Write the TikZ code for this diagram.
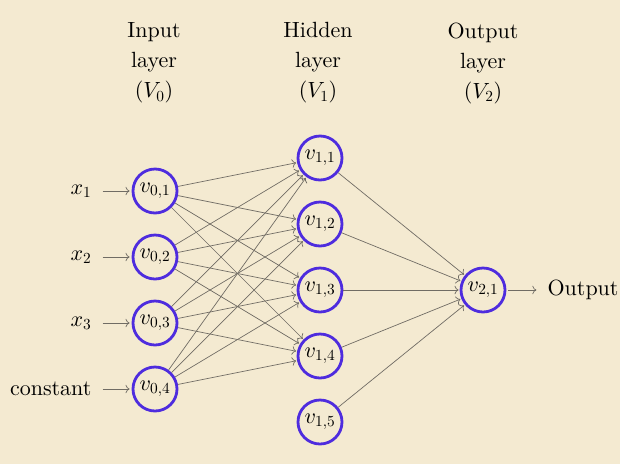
\documentclass[tikz,border=0pt]{standalone}
\usepackage{fix-cm}
\usepackage{amsmath}
\usepackage{fontspec}
\setmainfont{lmroman10-regular}[Extension=.otf]
\DeclareFontShape{OT1}{cmr}{m}{n}{<-> cmr10}{}
\DeclareFontShape{OML}{cmm}{m}{it}{<-> cmmi10}{}
\usetikzlibrary{arrows, arrows.meta, positioning}
\definecolor{mybg}{RGB}{244,234,209}
\definecolor{myblue}{RGB}{78,44,222}
\definecolor{myedgecolor}{RGB}{112,108,100}
\tikzset{myneuron/.style = {draw=myblue, circle, line width=2.8pt, minimum size=44pt, inner sep=0pt},
	myarrow/.style = {-{To[scale=1.3]}, draw=myedgecolor, line width=0.7pt, shorten >=1pt},
	myio/.style = {myarrow, shorten <=11pt, shorten >=2pt},
	mylabel/.style = {inner sep=0pt}}

\begin{document}
\begin{tikzpicture}[x=1pt,y=-1pt,font=\fontsize{22}{30}\selectfont]
\fill[mybg] (0,0) rectangle (620,464);
\useasboundingbox (0,0) rectangle (620,464);
\node[align=center] (h0) at (154,63) {Input\\layer\\$(V_0)$};
\node[align=center] (h1) at (318,63) {Hidden\\layer\\$(V_1)$};
\node[align=center] (h2) at (483,63) {Output\\layer\\$(V_2)$};
\foreach \j in {1,...,4}
	\node[myneuron] (v0\j) at (155,{191+66*(\j-1)}) {$v_{0,\j}$};
\foreach \i in {1,...,5}
	\node[myneuron] (v1\i) at (320,{158+66*(\i-1)}) {$v_{1,\i}$};
\node[myneuron] (v21) at (483,290) {$v_{2,1}$};
\node[mylabel, left=40pt of v01] (x1) {$x_1$};
\node[mylabel, left=40pt of v02] (x2) {$x_2$};
\node[mylabel, left=40pt of v03] (x3) {$x_3$};
\node[mylabel, left=40pt of v04] (x4) {constant};
\node[mylabel, right=41pt of v21] (out) {Output};
\foreach \j in {1,...,4}{
	\draw[myio] (x\j) -- (v0\j);
	\foreach \i in {1,...,4}
		\draw[myarrow] (v0\j) -- (v1\i);
}
\foreach \i in {1,...,5}
	\draw[myarrow] (v1\i) -- (v21);
\draw[myarrow, shorten <=2pt, shorten >=11pt] (v21) -- (out);
\end{tikzpicture}
\end{document}
